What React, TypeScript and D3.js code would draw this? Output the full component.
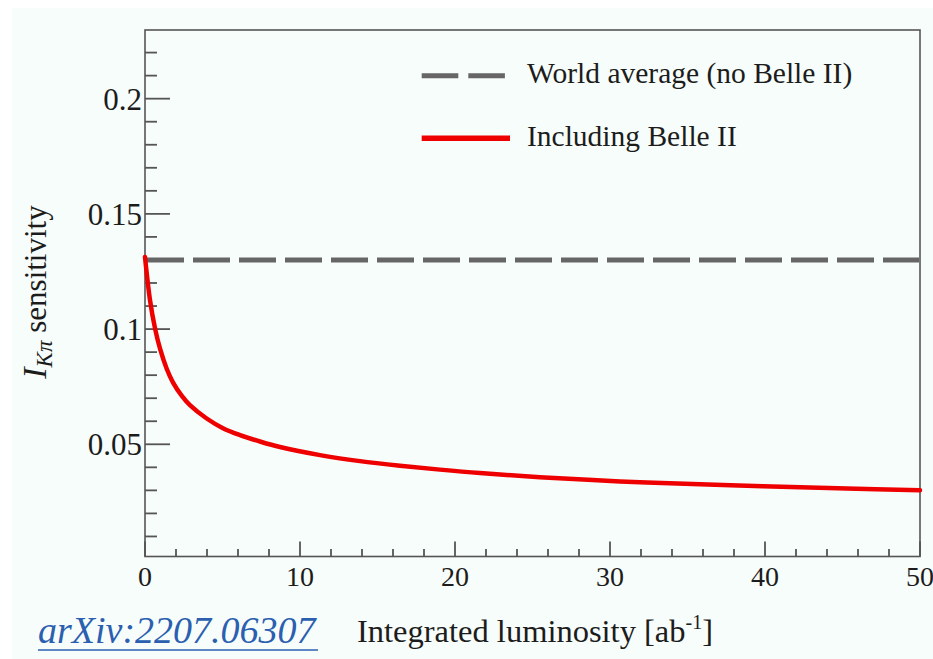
import React from "react";
import * as d3 from "d3";

// Integrated luminosity (ab^-1) and the corresponding I_Kπ sensitivity
const lumi = [0, 0.32, 0.65, 0.97, 1.4, 1.81, 2.39, 2.9, 3.98, 5.03, 6.13, 7.42, 8.71, 11.29, 13.87, 16.45, 19.03, 21.61, 25.48, 30.65, 35.81, 39.87, 45.29, 50];
const sensitivity = [0.1313, 0.1127, 0.1002, 0.0915, 0.0828, 0.0768, 0.0709, 0.067, 0.0612, 0.057, 0.054, 0.0512, 0.0488, 0.0453, 0.0427, 0.0407, 0.039, 0.0375, 0.0357, 0.0339, 0.0327, 0.0318, 0.0308, 0.0301];

// World average without Belle II
const worldAverage = 0.13;

const xMajorTicks = [0, 10, 20, 30, 40, 50];
const xTickLabels = ["0", "10", "20", "30", "40", "50"];
const yMajorTicks = [0.05, 0.1, 0.15, 0.2];
const yTickLabels = ["0.05", "0.1", "0.15", "0.2"];

const legendLabels = ["World average (no Belle II)", "Including Belle II"];

const W = 933;
const H = 659;
const left = 145;
const right = 920;
const top = 30;
const bottom = 556.5;

const serif = "'Liberation Serif', 'Times New Roman', Tinos, serif";
const axisColor = "#555";
const textColor = "#1c1c1c";

export default function App() {
  const x = d3.scaleLinear().domain([0, 50]).range([left, right]);
  const y = d3.scaleLinear().domain([0.0013, 0.2298]).range([bottom, top]);

  const pts: [number, number][] = lumi.map((l, i) => [l, sensitivity[i]]);
  const line = d3
    .line<[number, number]>()
    .x((d) => x(d[0]))
    .y((d) => y(d[1]))
    .curve(d3.curveCatmullRom.alpha(0.5));

  const xMinor = d3.range(0, 50.001, 2).filter((v) => v % 10 !== 0);
  const yMinor = d3.range(1, 23).map((v) => v / 100).filter((v) => Math.round(v * 100) % 5 !== 0);

  return (
    <svg
      width={W}
      height={H}
      style={{ position: "absolute", left: 0, top: 0, display: "block", fontFamily: serif }}
    >
      <rect x={0} y={0} width={W} height={H} fill="#ffffff" />
      <rect x={12} y={8} width={W - 12} height={H - 8} fill="#f7fdfa" />

      {/* frame */}
      <rect x={left} y={top} width={right - left} height={bottom - top} fill="none" stroke={axisColor} strokeWidth={1.6} />

      {/* y ticks */}
      {yMinor.map((v) => (
        <line key={"ym" + v} x1={left} x2={left + 12} y1={y(v)} y2={y(v)} stroke={axisColor} strokeWidth={1.8} />
      ))}
      {yMajorTicks.map((v, i) => (
        <g key={"yM" + v}>
          <line x1={left} x2={left + 25} y1={y(v)} y2={y(v)} stroke={axisColor} strokeWidth={1.8} />
          <text x={left - 3} y={y(v)} dy="0.35em" textAnchor="end" fontSize={31} fill={textColor}>
            {yTickLabels[i]}
          </text>
        </g>
      ))}

      {/* x ticks */}
      {xMinor.map((v) => (
        <line key={"xm" + v} x1={x(v)} x2={x(v)} y1={bottom} y2={bottom - 7.5} stroke={axisColor} strokeWidth={1.8} />
      ))}
      {xMajorTicks.map((v, i) => (
        <g key={"xM" + v}>
          <line x1={x(v)} x2={x(v)} y1={bottom} y2={bottom - 15} stroke={axisColor} strokeWidth={1.8} />
          <text x={x(v)} y={586} textAnchor="middle" fontSize={28} fill={textColor}>
            {xTickLabels[i]}
          </text>
        </g>
      ))}

      {/* world average */}
      <line
        x1={left + 2}
        x2={right - 1}
        y1={y(worldAverage)}
        y2={y(worldAverage)}
        stroke="#666"
        strokeWidth={5}
        strokeDasharray="37 9"
      />

      {/* including Belle II */}
      <path d={line(pts) ?? ""} fill="none" stroke="#ee0000" strokeWidth={4.5} strokeLinejoin="round" strokeLinecap="round" />

      {/* legend */}
      <line x1={421.7} x2={505} y1={75.7} y2={75.7} stroke="#666" strokeWidth={5} strokeDasharray="36.6 10" />
      <text x={527} y={83} fontSize={29.5} fill={textColor}>
        {legendLabels[0]}
      </text>
      <line x1={421.7} x2={510} y1={138.3} y2={138.3} stroke="#ee0000" strokeWidth={5.5} />
      <text x={527} y={146} fontSize={29.5} fill={textColor}>
        {legendLabels[1]}
      </text>

      {/* y title */}
      <text transform="translate(46,292) rotate(-90)" textAnchor="middle" fontSize={31} fill={textColor}>
        <tspan fontStyle="italic" fontSize={34}>I</tspan>
        <tspan fontStyle="italic" fontSize={23} dy={6}>Kπ</tspan>
        <tspan dy={-6}> sensitivity</tspan>
      </text>

      {/* x title */}
      <text x={357} y={642} fontSize={32.5} fill={textColor}>
        Integrated luminosity [ab
        <tspan fontSize={20} dy={-13}>-1</tspan>
        <tspan dy={13}>]</tspan>
      </text>

      {/* reference */}
      <text x={38} y={643} fontSize={38} fontStyle="italic" fill="#2b5fb0">
        arXiv:2207.06307
      </text>
      <line x1={38} x2={318} y1={650} y2={650} stroke="#2b5fb0" strokeWidth={1.6} />
    </svg>
  );
}
